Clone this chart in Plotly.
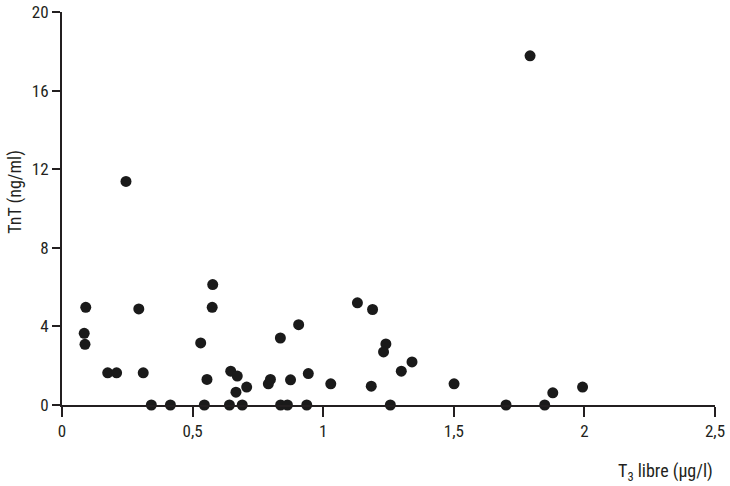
import plotly.graph_objects as go

# T3 libre (µg/l)
t3_libre = [0.245, 0.091, 0.085, 0.088, 0.175, 0.209, 0.294, 0.311, 0.342, 0.415,
            0.577, 0.575, 0.531, 0.555, 0.545, 0.646, 0.671, 0.666, 0.707, 0.641,
            0.690, 0.836, 0.790, 0.798, 0.906, 0.875, 0.943, 1.029, 0.837, 0.863,
            0.937, 1.131, 1.189, 1.240, 1.231, 1.340, 1.299, 1.184, 1.257, 1.501,
            1.700, 1.848, 1.879, 1.993, 1.792]
# TnT (ng/ml)
tnt = [11.38, 4.97, 3.65, 3.09, 1.64, 1.64, 4.89, 1.64, 0.0, 0.0,
       6.13, 4.97, 3.16, 1.30, 0.0, 1.72, 1.47, 0.65, 0.91, 0.0,
       0.0, 3.41, 1.08, 1.30, 4.09, 1.28, 1.60, 1.08, 0.0, 0.0,
       0.0, 5.20, 4.86, 3.11, 2.70, 2.19, 1.72, 0.96, 0.0, 1.08,
       0.0, 0.0, 0.62, 0.91, 17.77]

x_tickvals = [0, 0.5, 1, 1.5, 2, 2.5]
x_ticktext = ["0", "0,5", "1", "1,5", "2", "2,5"]
y_tickvals = [0, 4, 8, 12, 16, 20]
y_ticktext = ["0", "4", "8", "12", "16", "20"]

FONT = "Liberation Sans Narrow, Arial Narrow, Roboto Condensed, Liberation Sans, sans-serif"
INK = "#231f20"

fig = go.Figure()
fig.add_trace(go.Scatter(
    x=t3_libre, y=tnt, mode="markers",
    marker=dict(size=11, color="#1a1a1a", line=dict(width=0)),
    cliponaxis=False, showlegend=False,
))

fig.update_layout(
    width=730, height=486, autosize=False,
    margin=dict(l=62, r=15, t=12, b=80.5, autoexpand=False),
    plot_bgcolor="white", paper_bgcolor="white",
    font=dict(family=FONT, size=17, color=INK),
    xaxis=dict(range=[0, 2.5], tickvals=x_tickvals, ticktext=x_ticktext,
               showgrid=False, zeroline=False, showline=True, linecolor=INK,
               linewidth=2, ticks="outside", ticklen=10, tickwidth=2,
               tickcolor=INK, fixedrange=True, automargin=False,
               tickfont=dict(family=FONT, size=17, color=INK)),
    yaxis=dict(range=[0, 20], tickvals=y_tickvals, ticktext=y_ticktext,
               showgrid=False, zeroline=False, showline=True, linecolor=INK,
               linewidth=2, ticks="outside", ticklen=8, tickwidth=2,
               tickcolor=INK, fixedrange=True, automargin=False,
               tickfont=dict(family=FONT, size=17, color=INK)),
    annotations=[
        dict(text="TnT (ng/ml)", xref="paper", yref="paper", x=-0.072, y=0.5426,
             textangle=-90, showarrow=False, xanchor="center", yanchor="middle",
             font=dict(family=FONT, size=18, color=INK)),
        dict(text="T<sub>3</sub> libre (\u00b5g/l)", xref="paper", yref="paper",
             x=1.0, y=-0.17, showarrow=False, xanchor="right", yanchor="middle",
             font=dict(family=FONT, size=18, color=INK)),
    ],
)

fig.write_html(
    "out.html",
    config={"responsive": False, "displayModeBar": False},
    post_script="document.documentElement.style.margin='0';"
                "document.body.style.margin='0';"
                "document.body.style.padding='0';"
                "document.body.style.overflow='hidden';",
)
